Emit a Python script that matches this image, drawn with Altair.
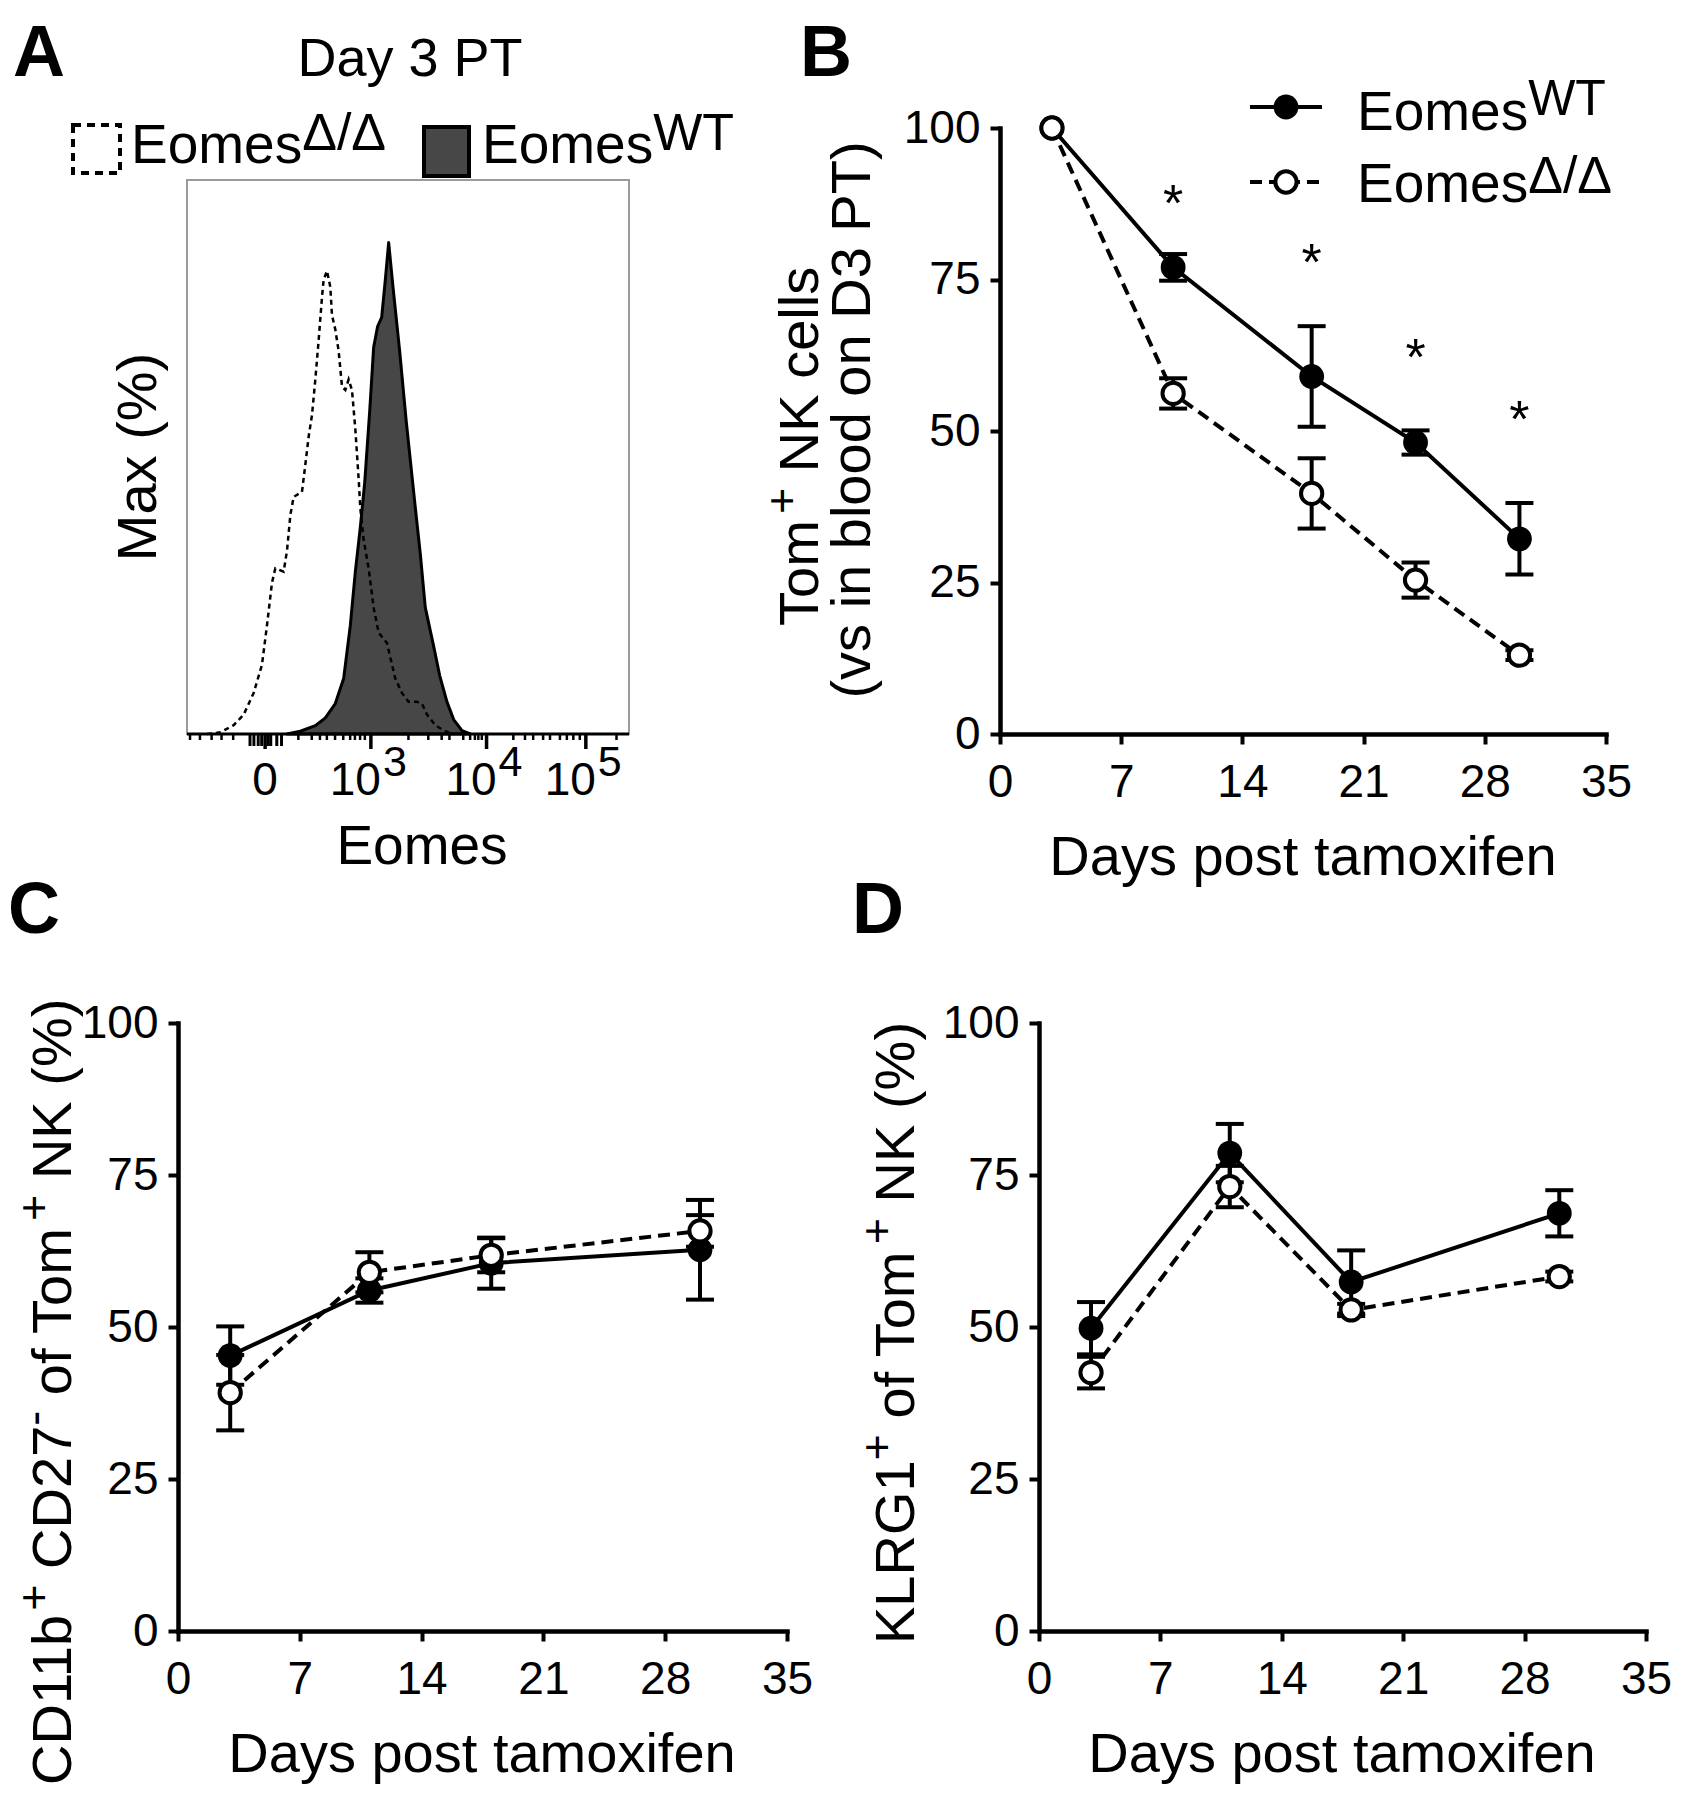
import altair as alt
import pandas as pd

FONT = "Liberation Sans"

# ---------------- Panel A : Eomes histogram (display channel 0-1024 across the box, % of box height)
A_wt_ch = [231.7, 262.5, 297.3, 320.5, 343.6, 362.9, 378.4, 390.0, 401.5, 411.6, 423.2, 432.4, 441.7, 451.0,
           459.5, 467.2, 477.2, 492.7, 508.1, 529.0, 540.5, 552.1, 569.9, 585.3, 602.3, 617.8, 637.1, 656.4]
A_wt_y = [0.0, 0.5, 1.5, 2.9, 5.5, 10.0, 19.6, 29.3, 37.3, 45.3, 58.2, 69.8, 73.6, 75.2,
          82.0, 88.7, 80.7, 69.1, 56.3, 40.8, 32.5, 22.8, 16.4, 10.6, 5.8, 2.6, 0.6, 0.0]
A_ko_ch = [46.3, 77.2, 108.1, 131.3, 154.4, 173.7, 185.3, 196.9, 204.6, 223.9, 231.7, 239.4, 247.1, 266.4,
           274.1, 281.9, 289.6, 297.3, 305.0, 312.7, 316.6, 324.3, 332.0, 335.9, 343.6, 351.4, 359.1, 366.8,
           374.5, 382.2, 390.0, 397.7, 401.5, 409.3, 420.8, 432.4, 444.0, 463.3, 471.0, 482.6, 498.1, 513.5,
           532.8, 544.4, 556.0, 575.3, 594.6, 617.8]
A_ko_y = [0.0, 0.3, 1.6, 3.5, 7.4, 12.5, 19.6, 27.3, 29.9, 29.3, 33.1, 39.5, 42.8, 43.7,
          48.6, 53.7, 57.6, 64.0, 71.1, 78.8, 82.0, 83.6, 80.7, 75.6, 73.0, 69.1, 62.7, 62.1,
          64.0, 62.1, 55.0, 46.0, 40.8, 35.0, 29.9, 22.8, 18.3, 16.4, 13.8, 10.0, 7.4, 5.8,
          5.8, 5.5, 3.5, 1.6, 0.6, 0.0]
A_minor_ticks = [7, 30, 57, 80, 107, 258, 289, 308, 324, 343, 362, 378, 389, 401, 412, 513, 559, 590, 608,
                 640, 656, 667, 675, 683, 756, 783, 802, 825, 841, 864, 880, 895, 910, 995]
A_cluster_ticks = [146, 155, 165, 173, 188, 194, 208, 219]
A_major_ticks = [181, 426, 694, 924]
A_zero_label = ["0"]
A_dec_ticks = [426, 694, 924]
A_dec_base = ["10", "10", "10"]
A_dec_sup = ["3", "4", "5"]

# ---------------- Panel B
B_days = [3, 10, 18, 24, 30]
B_wt = [100, 77.0, 59.0, 48.1, 32.2]
B_wt_err = [0, 2.2, 8.3, 2.0, 5.9]
B_ko = [100, 56.2, 39.7, 25.4, 13.0]
B_ko_err = [0, 2.5, 5.8, 2.9, 0.8]
B_star_days = [10, 18, 24, 30]
B_star_y = [88.3, 78.5, 62.8, 52.6]

# ---------------- Panel C
C_days = [3, 11, 18, 30]
C_wt = [45.3, 56.0, 60.5, 62.7]
C_wt_err = [4.8, 2.0, 4.2, 8.2]
C_ko = [39.2, 59.0, 61.8, 65.8]
C_ko_err = [6.2, 3.3, 2.8, 2.6]

# ---------------- Panel D
D_days = [3, 11, 18, 30]
D_wt = [49.8, 78.6, 57.4, 68.7]
D_wt_err = [4.3, 4.8, 5.2, 3.8]
D_ko = [42.5, 73.1, 52.8, 58.3]
D_ko_err = [2.6, 3.4, 1.0, 0.8]

X_TICKS = [0, 7, 14, 21, 28, 35]
Y_TICKS = [0, 25, 50, 75, 100]

# ---------------- helpers
ONE = pd.DataFrame({"k": [0]})
WID = {' ': .278, '(': .333, ')': .333, '%': .889, '+': .584, '-': .333, '/': .278, '*': .389,
       'A': .667, 'B': .667, 'C': .722, 'D': .722, 'E': .667, 'G': .778, 'K': .667, 'L': .556, 'M': .833,
       'N': .722, 'P': .667, 'R': .722, 'T': .611, 'W': .944,
       'a': .556, 'b': .556, 'c': .5, 'd': .556, 'e': .556, 'f': .278, 'i': .222, 'k': .5, 'l': .222,
       'm': .833, 'n': .556, 'o': .556, 'p': .556, 's': .5, 't': .278, 'v': .5, 'x': .5, 'y': .5, 'Δ': .668}


def tw(s, size):
    return sum(WID.get(c, .556) for c in s) * size


def txt(s, x, y, size, angle=0, align="left", weight="normal"):
    kw = dict(text=s, fontSize=size, font=FONT, align=align, baseline="alphabetic",
              fontWeight=weight, color="black")
    if angle:
        kw["angle"] = angle
    return alt.Chart(ONE).mark_text(**kw).encode(x=alt.value(x), y=alt.value(y))


def rich(segs, x, y, size, sup_size, rise, rotate=False):
    out = []
    off = 0.0
    for s, sup in segs:
        fs = sup_size if sup else size
        lead = len(s) - len(s.lstrip(" "))
        off += lead * WID[" "] * fs
        s2 = s.lstrip(" ")
        r = rise if sup else 0
        if rotate:
            out.append(txt(s2, x - r, y - off, fs, angle=270))
        else:
            out.append(txt(s2, x + off, y - r, fs))
        off += tw(s2, fs)
    return out


AX = dict(title=None, grid=False, domainColor="black", domainWidth=4.5, domainCap="square",
          tickColor="black", tickWidth=4, tickSize=10, labelFontSize=46, labelFont=FONT,
          labelColor="black", labelFlush=False, labelOverlap=False)


def line_panel(days, wt, wt_err, ko, ko_err, w, h, ann, stars=None, left=0):
    def frame(v, e):
        return pd.DataFrame({"day": days, "val": v, "err": e,
                             "lo": [a - b for a, b in zip(v, e)], "hi": [a + b for a, b in zip(v, e)]})
    wdf, kdf = frame(wt, wt_err), frame(ko, ko_err)
    xax = alt.Axis(values=X_TICKS, labelPadding=16, **AX)
    yax = alt.Axis(values=Y_TICKS, labelPadding=10, offset=-left, **AX) if left else \
        alt.Axis(values=Y_TICKS, labelPadding=10, **AX)
    X = alt.X("day:Q", scale=alt.Scale(domain=[0, 35], range=[left, w], nice=False, zero=False), axis=xax)

    def Y(f):
        return alt.Y(f + ":Q", scale=alt.Scale(domain=[0, 100], nice=False, zero=False), axis=yax)

    layers = [
        alt.Chart(kdf).mark_line(color="black", strokeWidth=4, strokeDash=[12, 7]).encode(x=X, y=Y("val")),
        alt.Chart(wdf).mark_line(color="black", strokeWidth=4).encode(x=X, y=Y("val")),
    ]
    for df in (wdf, kdf):
        e = df[df["err"] > 0]
        layers.append(alt.Chart(e).mark_rule(color="black", strokeWidth=4)
                      .encode(x=X, y=Y("lo"), y2=alt.Y2("hi:Q")))
        for f in ("lo", "hi"):
            layers.append(alt.Chart(e).mark_tick(color="black", orient="horizontal", size=28, thickness=4,
                                                 opacity=1).encode(x=X, y=Y(f)))
    layers.append(alt.Chart(wdf).mark_circle(color="black", size=615, opacity=1).encode(x=X, y=Y("val")))
    layers.append(alt.Chart(kdf).mark_circle(fill="white", stroke="black", strokeWidth=4, size=452,
                                             opacity=1, fillOpacity=1).encode(x=X, y=Y("val")))
    if stars is not None:
        layers.append(alt.Chart(stars).mark_text(text="*", fontSize=52, font=FONT, baseline="alphabetic",
                                                 dy=22, color="black").encode(x=X, y=Y("ys")))
    return alt.layer(*layers, *ann).properties(width=w, height=h)


# ---------------- Panel A chart
A_W, A_H = 570, 606
BOX_L, BOX_PX, BOX_HPX = 9, 442, 554
xa_scale = alt.Scale(domain=[-BOX_L * 1024 / BOX_PX, (A_W - BOX_L) * 1024 / BOX_PX], nice=False, zero=False)
ya_scale = alt.Scale(domain=[0, 100 * A_H / BOX_HPX], nice=False, zero=False)
XA = alt.X("ch:Q", scale=xa_scale, axis=None)
YA = alt.Y("y:Q", scale=ya_scale, axis=None)

box_df = pd.DataFrame({"ch": [0], "ch2": [1024], "y": [0], "y2": [100]})
wt_df = pd.DataFrame({"ch": A_wt_ch, "y": A_wt_y})
ko_df = pd.DataFrame({"ch": A_ko_ch, "y": A_ko_y})

A_layers = [
    alt.Chart(box_df).mark_rect(fillOpacity=0, stroke="#9a9a9a", strokeWidth=2)
    .encode(x=XA, x2=alt.X2("ch2:Q"), y=YA, y2=alt.Y2("y2:Q")),
    alt.Chart(wt_df).mark_area(fill="#474747", stroke="black", strokeWidth=3, strokeJoin="round")
    .encode(x=XA, y=YA),
    alt.Chart(ko_df).mark_line(color="black", strokeWidth=2.5, strokeDash=[5, 4]).encode(x=XA, y=YA),
    alt.Chart(box_df).mark_rule(color="black", strokeWidth=3).encode(x=XA, x2=alt.X2("ch2:Q"), y=YA),
    alt.Chart(pd.DataFrame({"ch": A_minor_ticks})).mark_rule(color="black", strokeWidth=2.5)
    .encode(x=XA, y=alt.value(A_H), y2=alt.value(A_H + 6)),
    alt.Chart(pd.DataFrame({"ch": A_cluster_ticks})).mark_rule(color="black", strokeWidth=3)
    .encode(x=XA, y=alt.value(A_H), y2=alt.value(A_H + 12)),
    alt.Chart(pd.DataFrame({"ch": A_major_ticks})).mark_rule(color="black", strokeWidth=3.5)
    .encode(x=XA, y=alt.value(A_H), y2=alt.value(A_H + 15)),
    alt.Chart(pd.DataFrame({"ch": [A_major_ticks[0]], "lab": A_zero_label}))
    .mark_text(fontSize=46, font=FONT, align="center", baseline="alphabetic", color="black")
    .encode(x=XA, y=alt.value(667), text="lab:N"),
    alt.Chart(pd.DataFrame({"ch": A_dec_ticks, "lab": A_dec_base}))
    .mark_text(fontSize=46, font=FONT, align="right", baseline="alphabetic", dx=10, color="black")
    .encode(x=XA, y=alt.value(667), text="lab:N"),
    alt.Chart(pd.DataFrame({"ch": A_dec_ticks, "lab": A_dec_sup}))
    .mark_text(fontSize=43, font=FONT, align="left", baseline="alphabetic", dx=12, color="black")
    .encode(x=XA, y=alt.value(648), text="lab:N"),
    # legend squares
    alt.Chart(ONE).mark_rect(fill="white", stroke="black", strokeWidth=4, strokeDash=[8, 6])
    .encode(x=alt.value(-105), x2=alt.value(-58), y=alt.value(-3), y2=alt.value(45)),
    alt.Chart(ONE).mark_rect(fill="#474747", stroke="black", strokeWidth=4)
    .encode(x=alt.value(246), x2=alt.value(291), y=alt.value(-1), y2=alt.value(48)),
    txt("A", -165, -52, 72, weight="bold"),
    txt("Day 3 PT", 232, -52, 54, align="center"),
    txt("Max (%)", -22, 329, 56, angle=270, align="center"),
    txt("Eomes", 244, 736, 55, align="center"),
]
A_layers += rich([("Eomes", False), ("Δ/Δ", True)], -47, 35, 55, 52, 13)
A_layers += rich([("Eomes", False), ("WT", True)], 304, 35, 55, 52, 13)
panelA = alt.layer(*A_layers).properties(width=A_W, height=A_H)

# ---------------- Panel B chart
B_ann = [
    txt("B", -200, -52, 72, weight="bold"),
    txt("(vs in blood on D3 PT)", -130, 292, 56, angle=270, align="center"),
    txt("Days post tamoxifen", 303, 747, 56, align="center"),
    alt.Chart(ONE).mark_rule(color="black", strokeWidth=4)
    .encode(x=alt.value(250), x2=alt.value(322), y=alt.value(-21)),
    alt.Chart(ONE).mark_circle(color="black", size=615, opacity=1).encode(x=alt.value(286), y=alt.value(-21)),
    alt.Chart(ONE).mark_rule(color="black", strokeWidth=4, strokeDash=[12, 7])
    .encode(x=alt.value(250), x2=alt.value(322), y=alt.value(54)),
    alt.Chart(ONE).mark_circle(fill="white", stroke="black", strokeWidth=4, size=452, opacity=1, fillOpacity=1)
    .encode(x=alt.value(286), y=alt.value(54)),
]
B_ann += rich([("Tom", False), ("+", True), (" NK cells", False)], -182, 498, 56, 45, 21, rotate=True)
B_ann += rich([("Eomes", False), ("WT", True)], 357, 2, 55, 50, 15)
B_ann += rich([("Eomes", False), ("Δ/Δ", True)], 357, 74, 55, 52, 9)
stars_df = pd.DataFrame({"day": B_star_days, "ys": B_star_y})
panelB = line_panel(B_days, B_wt, B_wt_err, B_ko, B_ko_err, 606, 606, B_ann, stars=stars_df)

# ---------------- Panel C chart
C_ann = [
    txt("C", -170, -90, 72, weight="bold"),
    txt("Days post tamoxifen", 304, 749, 56, align="center"),
]
C_ann += rich([("CD11b", False), ("+", True), (" CD27", False), ("-", True), (" of Tom", False), ("+", True),
               (" NK (%)", False)], -107, 762, 56, 45, 22, rotate=True)
panelC = line_panel(C_days, C_wt, C_wt_err, C_ko, C_ko_err, 609, 608, C_ann)

# ---------------- Panel D chart (view starts 39px left of its y axis, sharing column 2 with panel B)
D_LEFT = 39
D_ann = [
    txt("D", -148, -90, 72, weight="bold"),
    txt("Days post tamoxifen", 342, 749, 56, align="center"),
]
D_ann += rich([("KLRG1", False), ("+", True), (" of Tom", False), ("+", True), (" NK (%)", False)],
              -86, 621, 56, 45, 22, rotate=True)
panelD = line_panel(D_days, D_wt, D_wt_err, D_ko, D_ko_err, 646, 608, D_ann, left=D_LEFT)

chart = alt.concat(panelA, panelB, panelC, panelD, columns=2, spacing={"row": 289, "column": 213},
                   bounds="flush").properties(
    padding={"left": 0, "top": 10, "right": 0, "bottom": 0}
).configure_view(stroke=None)

chart.save("out.html", embed_options={"renderer": "svg", "actions": False})
